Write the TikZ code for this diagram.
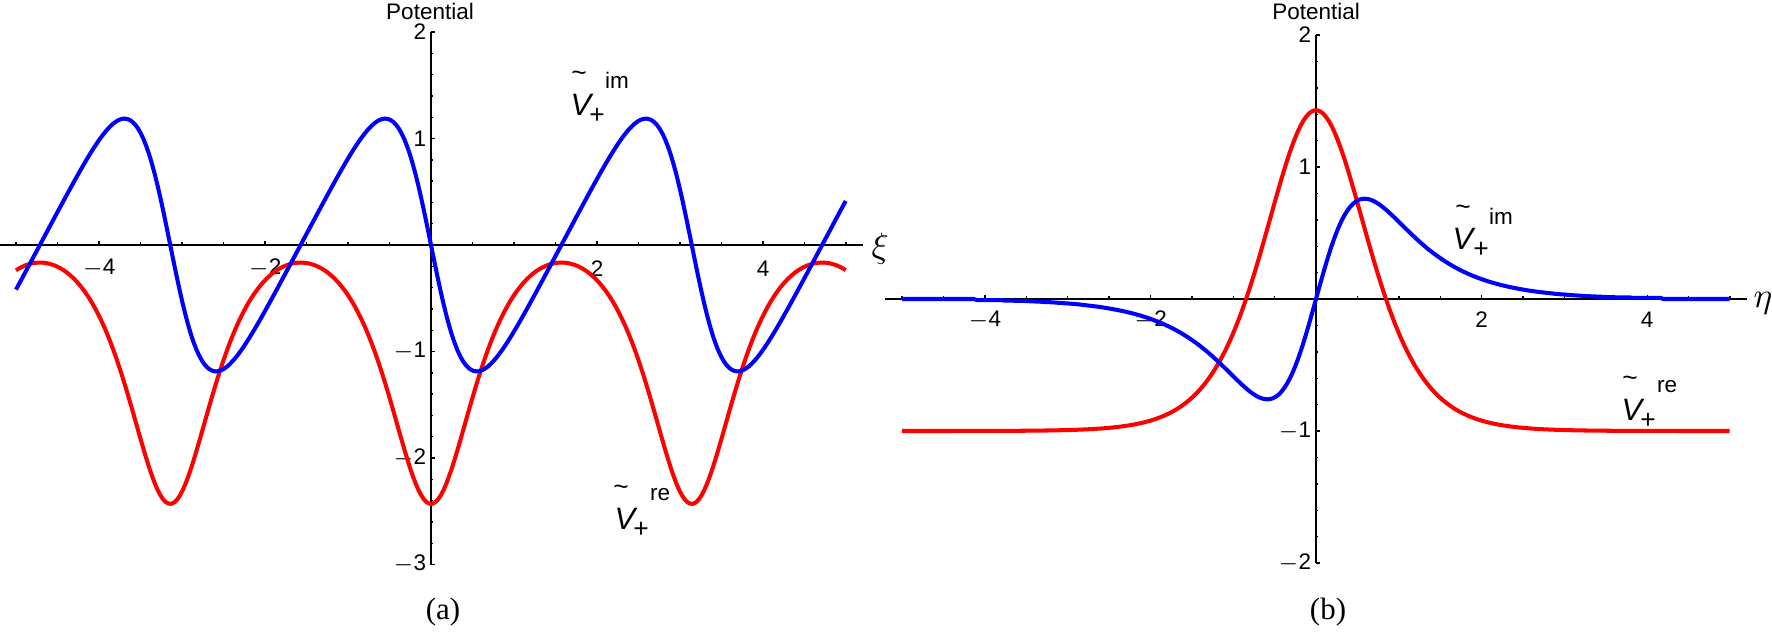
\documentclass[tikz,border=0pt]{standalone}
\usepackage{fontspec}
\setmainfont{Liberation Serif}
\newfontfamily\lab{Liberation Sans}
\begin{document}
\begin{tikzpicture}[x=0.1mm,y=-0.1mm,
  ax/.style={line width=0.4pt,black},
  vcurve/.style={line width=1.15pt,line join=round},
  tk/.style={font=\lab\fontsize{6.4}{7}\selectfont,inner sep=0pt},
  vlab/.style={font=\lab\itshape\fontsize{8.8}{9}\selectfont,inner sep=0pt},
  tlab/.style={font=\lab\fontsize{7.5}{8}\selectfont,inner sep=0pt},
  slab/.style={font=\lab\fontsize{6.4}{7}\selectfont,inner sep=0pt},
  captext/.style={font=\fontsize{8.8}{10}\selectfont,inner sep=0pt}]
\useasboundingbox (0,0) rectangle (1772,631);
% ===== left panel =====
\begin{scope}[shift={(43.1mm,-24.5mm)},x=8.3mm,y=10.65mm]
  \draw[ax] (-5.19,0) -- (5.2,0);
  \draw[ax] (0,2) -- (0,-3);
  \foreach \t in {-5,-4.5,...,5} \draw[ax] (\t,0) -- (\t,0.025);
  \foreach \t in {-4,-2,2,4} \draw[ax] (\t,0) -- (\t,0.04);
  \foreach \t in {-3,-2.8,...,2} \draw[ax] (0,\t) -- (0.03,\t);
  \foreach \t in {-3,-2,-1,1,2} \draw[ax] (0,\t) -- (0.05,\t);
  \foreach \t/\s in {-4/$-$4,-2/$-$2,2/2,4/4} \node[tk] (lx\t) at (\t,-0.22) {\s};
  \foreach \t/\s in {2/2,1/1,-1/$-$1,-2/$-$2,-3/$-$3} \node[tk,anchor=east] (ly\t) at (-0.05,\t) {\s};
  \draw[vcurve,red] plot[domain=-5:5,samples=300] (\x,{1.22-2.008/(1-0.45*cos(2*\x r))});
  \draw[vcurve,blue] plot[domain=-5:5,samples=300] (\x,{-1.06*sin(2*\x r)/(1-0.45*cos(2*\x r))});
\end{scope}
\node[tk] (potA) at (430,11) {Potential};
\node[font=\itshape\fontsize{10}{10}\selectfont,inner sep=0pt] (xi) at (880,249) {$\xi$};
\node[vlab] (vimA) at (581,105) {V};
\node[tlab] (timA) at (579,76) {\textasciitilde};
\node[tlab] (pimA) at (597,116) {+};
\node[slab] (simA) at (617,80) {im};
\node[vlab] (vreA) at (625,519) {V};
\node[tlab] (treA) at (621,490) {\textasciitilde};
\node[tlab] (preA) at (641,530) {+};
\node[slab] (sreA) at (660,495) {re};
\node[captext] (capA) at (443,612) {(a)};
% ===== right panel =====
\begin{scope}[shift={(131.6mm,-29.9mm)},x=8.28mm,y=13.2mm]
  \draw[ax] (-5.2,0) -- (5.2,0);
  \draw[ax] (0,2) -- (0,-2);
  \foreach \t in {-5,-4.5,...,5} \draw[ax] (\t,0) -- (\t,0.02);
  \foreach \t in {-4,-2,2,4} \draw[ax] (\t,0) -- (\t,0.032);
  \foreach \t in {-2,-1.8,...,2} \draw[ax] (0,\t) -- (0.03,\t);
  \foreach \t in {-2,-1,1,2} \draw[ax] (0,\t) -- (0.05,\t);
  \foreach \t/\s in {-4/$-$4,-2/$-$2,2/2,4/4} \node[tk] (rx\t) at (\t,-0.16) {\s};
  \foreach \t/\s in {2/2,1/1,-1/$-$1,-2/$-$2} \node[tk,anchor=east] (ry\t) at (-0.05,\t) {\s};
  \draw[vcurve,red] plot[domain=-5:5,samples=300] (\x,{-1+2.43*(1-tanh(1.2*\x)*tanh(1.2*\x))});
  \draw[vcurve,blue] plot[domain=-5:5,samples=300] (\x,{1.52*tanh(1.5*\x)*sqrt(max(0,1-tanh(1.5*\x)*tanh(1.5*\x)))});
\end{scope}
\node[tk] (potB) at (1316,11) {Potential};
\node[font=\itshape\fontsize{10}{10}\selectfont,inner sep=0pt] (eta) at (1763,303) {$\eta$};
\node[vlab] (vimB) at (1463,239) {V};
\node[tlab] (timB) at (1463,210) {\textasciitilde};
\node[tlab] (pimB) at (1481,250) {+};
\node[slab] (simB) at (1501,216) {im};
\node[vlab] (vreB) at (1632,410) {V};
\node[tlab] (treB) at (1630,381) {\textasciitilde};
\node[tlab] (preB) at (1648,421) {+};
\node[slab] (sreB) at (1667,387) {re};
\node[captext] (capB) at (1328,612) {(b)};
\end{tikzpicture}
\end{document}
